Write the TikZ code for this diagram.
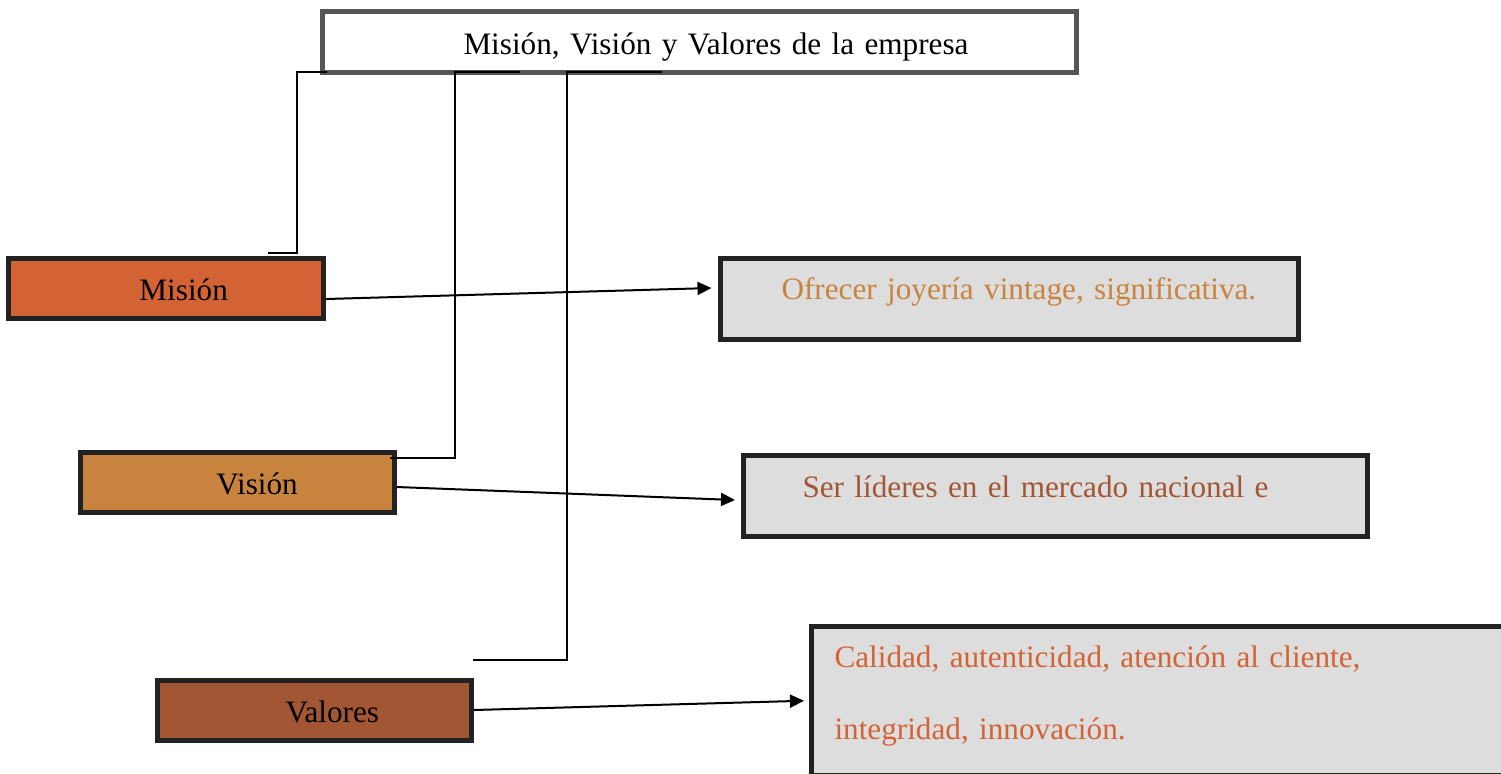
\documentclass[tikz,border=0pt]{standalone}
\usepackage{fontspec}
\setmainfont{Liberation Serif}
\usepackage{tikz}
\usetikzlibrary{positioning, calc, arrows.meta}

\definecolor{misionfill}{HTML}{D36335}
\definecolor{visionfill}{HTML}{C8843F}
\definecolor{valoresfill}{HTML}{A35634}
\definecolor{boxgray}{HTML}{DDDDDD}
\definecolor{edgedark}{HTML}{222222}
\definecolor{edgetop}{HTML}{555555}

\begin{document}
\begin{tikzpicture}[x=0.5pt, y=-0.5pt, font=\fontsize{15.6}{19}\selectfont]
        \tikzstyle{item}=[draw=edgedark, line width=2.5pt, rectangle, inner sep=0pt, align=left, text height=12pt, text depth=0pt, minimum height=30pt];
        \tikzstyle{detail}=[item, fill=boxgray, text height=8pt, text depth=6.5pt, minimum height=40.5pt];
        \tikzstyle{link}=[line width=1pt, black];
        \tikzstyle{arrow}=[line width=1pt, black, -{Triangle[length=7pt, width=6.5pt]}];
        \useasboundingbox (0,0) rectangle (1501,773);

        \node[item, draw=edgetop, fill=white, text width=377pt, minimum height=30.5pt] (top) at (699.5,42) {\hspace*{70.5pt}Misión, Visión y Valores de la empresa};
        \node[item, fill=misionfill, text width=157.5pt] (mision) at (166,288.5) {\hspace*{65.5pt}Misión};
        \node[item, fill=visionfill, text width=157pt] (vision) at (237.5,482) {\hspace*{68pt}Visión};
        \node[item, fill=valoresfill, text width=157pt] (valores) at (314.5,710) {\hspace*{64pt}Valores};
        \node[detail, text width=289pt, text=visionfill, text height=7.5pt, text depth=7pt] (ofrecer) at (1009.5,299) {\hspace*{30.5pt}Ofrecer joyería vintage, significativa.};
        \node[detail, text width=312pt, text=valoresfill] (lideres) at (1055.5,496) {\hspace*{29.5pt}Ser líderes en el mercado nacional e};
        \node[detail, text width=359.25pt, minimum height=74.25pt, text height=10pt, text depth=43.5pt, text=misionfill, font=\fontsize{15.6}{36}\selectfont] (calidad) at (1170.75,700.75) {\hspace*{11.5pt}Calidad, autenticidad, atención al cliente,\\\hspace*{11.5pt}integridad, innovación.};

        % brackets from the title
        \coordinate (ma) at (268,253);
        \coordinate (mb) at (327,72);
        \coordinate (va) at (390,458);
        \coordinate (vb) at (520,72);
        \coordinate (la) at (473,660);
        \coordinate (lb) at (662,72);
        \draw[link] (ma) -- ++(29,0) |- (mb);
        \draw[link] (va) -- ++(65,0) |- (vb);
        \draw[link] (la) -- ++(94,0) |- (lb);

        \draw[arrow] ([yshift=-5.25pt]mision.east) -- ([xshift=-3.25pt, yshift=5.5pt]ofrecer.west);
        \draw[arrow] ([yshift=-2.5pt]vision.east) -- ([xshift=-3pt, yshift=-2pt]lideres.west);
        \draw[arrow] (valores.east) -- ([xshift=-2.5pt]calidad.west);
\end{tikzpicture}
\end{document}
